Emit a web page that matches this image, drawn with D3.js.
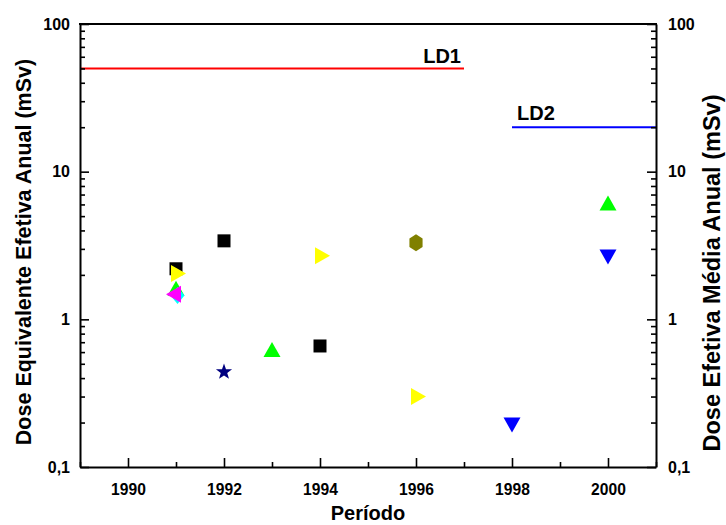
<!DOCTYPE html>
<html>
<head>
<meta charset="utf-8">
<script src="https://cdn.jsdelivr.net/npm/d3@7"></script>
<style>
  html, body { margin: 0; padding: 0; background: #fff; }
  svg text { font-family: "Liberation Sans", Arial, sans-serif; font-weight: bold; fill: #000; }
</style>
</head>
<body>
<svg id="chart" width="726" height="525"></svg>
<script>
// ---- data ----
const xTickYears = [1990, 1992, 1994, 1996, 1998, 2000];
const xMinorYears = [1989, 1991, 1993, 1995, 1997, 1999, 2001];
const yTickValues = [0.1, 1, 10, 100];
const yTickLabels = ["0,1", "1", "10", "100"];

const squareYears = [1991, 1992, 1994];
const squareValues = [2.2, 3.4, 0.66];
const upTriYears = [1991, 1993, 2000];
const upTriValues = [1.56, 0.60, 5.9];
const downTriYears = [1998, 2000];
const downTriValues = [0.20, 2.75];
const diamondYears = [1991];
const diamondValues = [1.45];
const leftTriYears = [1991];
const leftTriValues = [1.48];
const rightTriYears = [1991, 1994, 1996];
const rightTriValues = [2.04, 2.7, 0.30];
const hexYears = [1996];
const hexValues = [3.3];
const starYears = [1992];
const starValues = [0.44];

const ld1 = { label: "LD1", value: 50, from: 1989, to: 1997 };
const ld2 = { label: "LD2", value: 20, from: 1998, to: 2001 };

// ---- layout ----
const svg = d3.select("#chart");
const L = 80, R = 656, T = 24, B = 467;
const x = d3.scaleLinear().domain([1989, 2001]).range([L, R]);
const y = d3.scaleLog().domain([0.1, 100]).range([B, T]);

// custom symbol shapes (fixed pixel geometry)
function polySym(pts) {
  return { draw(ctx) { ctx.moveTo(pts[0][0], pts[0][1]); for (let i = 1; i < pts.length; i++) ctx.lineTo(pts[i][0], pts[i][1]); ctx.closePath(); } };
}
const tw = 17, th = 15;
const symSquare = polySym([[-6.5,-6.5],[6.5,-6.5],[6.5,6.5],[-6.5,6.5]]);
const symUp = polySym([[0,-2*th/3],[tw/2,th/3],[-tw/2,th/3]]);
const symDown = polySym([[0,2*th/3],[tw/2,-th/3],[-tw/2,-th/3]]);
const symRight = polySym([[2*th/3,0],[-th/3,-tw/2],[-th/3,tw/2]]);
const symLeft = polySym([[-2*th/3,0],[th/3,-tw/2],[th/3,tw/2]]);
const symDiamond = polySym([[0,-8.5],[7,0],[0,8.5],[-7,0]]);
const hexPts = d3.range(6).map(i => { const a = Math.PI/3*i - Math.PI/2; return [7.6*Math.cos(a), 8.6*Math.sin(a)]; });
const symHex = polySym(hexPts);
const starPts = d3.range(10).map(i => { const a = Math.PI/5*i - Math.PI/2; const r = i % 2 ? 3.4 : 8.5; return [r*Math.cos(a), r*Math.sin(a)]; });
const symStar = polySym(starPts);

const series = [
  { years: squareYears, values: squareValues, type: symSquare, color: "#000000" },
  { years: upTriYears, values: upTriValues, type: symUp, color: "#00ff00" },
  { years: downTriYears, values: downTriValues, type: symDown, color: "#0000ff" },
  { years: diamondYears, values: diamondValues, type: symDiamond, color: "#00ffff", dx: 1.5 },
  { years: leftTriYears, values: leftTriValues, type: symLeft, color: "#ff00ff" },
  { years: rightTriYears, values: rightTriValues, type: symRight, color: "#ffff00" },
  { years: hexYears, values: hexValues, type: symHex, color: "#808000" },
  { years: starYears, values: starValues, type: symStar, color: "#000080" }
];

// ---- reference lines ----
[ {d: ld1, color: "#ff0000"}, {d: ld2, color: "#0000ff"} ].forEach(o => {
  svg.append("line")
    .attr("x1", x(o.d.from)).attr("x2", x(o.d.to))
    .attr("y1", y(o.d.value)).attr("y2", y(o.d.value))
    .attr("stroke", o.color).attr("stroke-width", 2);
});
svg.append("text").attr("x", x(ld1.to) - 3).attr("y", y(ld1.value) - 5)
  .attr("text-anchor", "end").style("font-size", "20px").text(ld1.label);
svg.append("text").attr("x", x(ld2.from) + 5).attr("y", y(ld2.value) - 7)
  .attr("text-anchor", "start").style("font-size", "20px").text(ld2.label);

// ---- markers ----
series.forEach(s => {
  svg.append("g").selectAll("path")
    .data(s.years.map((yr, i) => ({ yr, v: s.values[i] })))
    .join("path")
    .attr("d", d3.symbol().type(s.type).size(1))
    .attr("transform", d => `translate(${x(d.yr) + (s.dx || 0)},${y(d.v)})`)
    .attr("fill", s.color);
});

// ---- axes ----
const fmtY = v => yTickLabels[yTickValues.indexOf(v)];
const minorY = [];
[0.1, 1, 10].forEach(dec => { for (let k = 2; k <= 9; k++) minorY.push(dec * k); });

function styleAxis(g) {
  g.selectAll(".domain").attr("stroke", "#000").attr("stroke-width", 2);
  g.selectAll(".tick line").attr("stroke", "#000").attr("stroke-width", 1.6);
  g.selectAll("text").style("font-size", "16px").attr("font-family", null);
}

// bottom
svg.append("g").attr("transform", `translate(0,${B})`)
  .call(d3.axisBottom(x).tickValues(xMinorYears).tickSize(-5).tickSizeOuter(0).tickFormat(""))
  .call(g => g.select(".domain").remove())
  .call(styleAxis);
svg.append("g").attr("transform", `translate(0,${B})`)
  .call(d3.axisBottom(x).tickValues(xTickYears).tickSize(-9).tickSizeOuter(0).tickPadding(16).tickFormat(d3.format("d")))
  .call(styleAxis)
  .call(g => g.selectAll("text").style("font-size", "17px").attr("transform", "scale(0.92,1)"));

// left
svg.append("g").attr("transform", `translate(${L},0)`)
  .call(d3.axisLeft(y).tickValues(minorY).tickSize(-5).tickSizeOuter(0).tickFormat(""))
  .call(g => g.select(".domain").remove())
  .call(styleAxis);
svg.append("g").attr("transform", `translate(${L},0)`)
  .call(d3.axisLeft(y).tickValues(yTickValues).tickSize(-9).tickSizeOuter(0).tickPadding(10).tickFormat(fmtY))
  .call(styleAxis);

// right
svg.append("g").attr("transform", `translate(${R},0)`)
  .call(d3.axisRight(y).tickValues(minorY).tickSize(-5).tickSizeOuter(0).tickFormat(""))
  .call(g => g.select(".domain").remove())
  .call(styleAxis);
svg.append("g").attr("transform", `translate(${R},0)`)
  .call(d3.axisRight(y).tickValues(yTickValues).tickSize(-9).tickSizeOuter(0).tickPadding(12).tickFormat(fmtY))
  .call(styleAxis);

// top frame line
svg.append("line").attr("x1", L - 1).attr("x2", R + 1).attr("y1", T).attr("y2", T)
  .attr("stroke", "#000").attr("stroke-width", 2);

// ---- titles ----
svg.append("text").attr("x", (L + R) / 2).attr("y", 520).attr("text-anchor", "middle")
  .style("font-size", "20px").text("Período");
svg.append("text").attr("transform", "translate(23,252) rotate(-90)")
  .attr("dy", "0.35em").attr("text-anchor", "middle").style("font-size", "21.5px")
  .text("Dose Equivalente Efetiva Anual (mSv)");
svg.append("text").attr("transform", "translate(712,273) rotate(-90)")
  .attr("dy", "0.35em").attr("text-anchor", "middle").style("font-size", "23.5px")
  .text("Dose Efetiva Média Anual (mSv)");
</script>
</body>
</html>
